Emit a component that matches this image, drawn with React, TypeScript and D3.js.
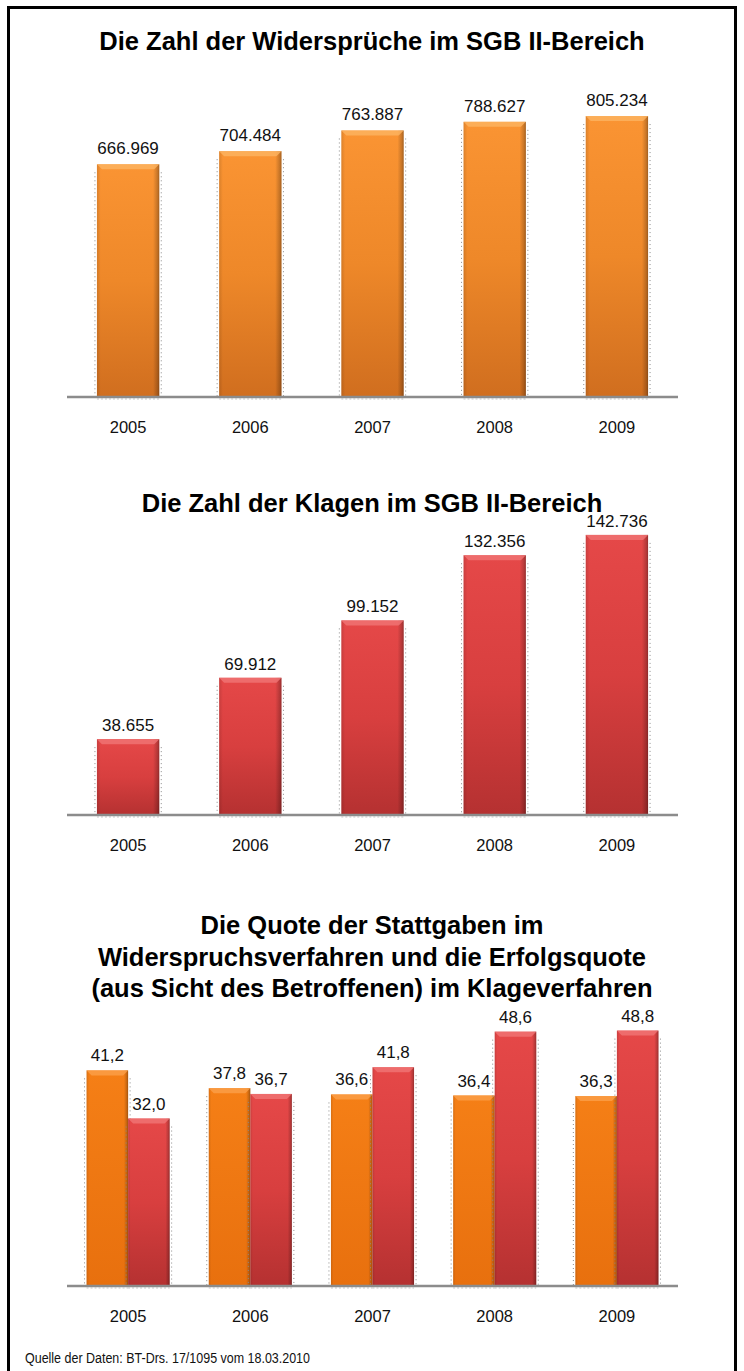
import React from "react";
import * as d3 from "d3";

const years = ["2005", "2006", "2007", "2008", "2009"];
const widersprueche = [666969, 704484, 763887, 788627, 805234];
const klagen = [38655, 69912, 99152, 132356, 142736];
const quoteWiderspruch = [41.2, 37.8, 36.6, 36.4, 36.3];
const quoteKlage = [32.0, 36.7, 41.8, 48.6, 48.8];
const seriesNames = ["Widerspruch", "Klage"];

const title1 = "Die Zahl der Widersprüche im SGB II-Bereich";
const title2 = "Die Zahl der Klagen im SGB II-Bereich";
const title3 = [
  "Die Quote der Stattgaben im",
  "Widerspruchsverfahren und die Erfolgsquote",
  "(aus Sicht des Betroffenen) im Klageverfahren",
];
const source = "Quelle der Daten: BT-Drs.  17/1095 vom 18.03.2010";

const de = d3.formatLocale({
  decimal: ",",
  thousands: ".",
  grouping: [3],
  currency: ["", " €"],
});
const fmtInt = de.format(",.0f");
const fmt1 = de.format(",.1f");

const FONT = "'Liberation Sans', Arial, Helvetica, sans-serif";

type BarProps = { x: number; y: number; w: number; h: number; grad: string; bevel: string };

function Bar({ x, y, w, h, grad, bevel }: BarProps) {
  const b = 5;
  return (
    <g>
      <line x1={x - 2} x2={x - 2} y1={y + 8} y2={y + h} stroke="#8a8a8a" strokeWidth={1} strokeDasharray="1,3" />
      <line x1={x + w + 2} x2={x + w + 2} y1={y + 8} y2={y + h} stroke="#8a8a8a" strokeWidth={1} strokeDasharray="1,3" />
      <rect x={x} y={y} width={w} height={h} fill={`url(#${grad})`} />
      <rect x={x} y={y} width={w} height={h} fill="url(#edgeShade)" />
      <path
        d={`M${x},${y} L${x + w},${y} L${x + w - b},${y + b} L${x + b},${y + b} Z`}
        fill={bevel}
        opacity={0.8}
      />
      <line x1={x} x2={x + w} y1={y + h + 2} y2={y + h + 2} stroke="#c8c8c8" strokeWidth={1} strokeDasharray="2,2" />
    </g>
  );
}

export default function App() {
  const left = 67;
  const right = 678;

  // Chart 1
  const x1 = d3.scaleBand<string>().domain(years).range([left, right]).paddingInner(0.49).paddingOuter(0.245);
  const base1 = 397;
  const y1 = d3.scaleLinear().domain([0, 900000]).range([base1, base1 - 314]);

  // Chart 2
  const base2 = 815;
  const y2 = d3.scaleLinear().domain([0, 160000]).range([base2, base2 - 314]);

  // Chart 3
  const x3 = d3.scaleBand<string>().domain(years).range([left, right]).paddingInner(0.32).paddingOuter(0.16);
  const x3i = d3.scaleBand<string>().domain(seriesNames).range([0, x3.bandwidth()]).padding(0);
  const base3 = 1286;
  const y3 = d3.scaleLinear().domain([0, 60]).range([base3, base3 - 314]);

  const titleStyle = { fontFamily: FONT, fontWeight: 700, fontSize: 25.5, fill: "#000" } as const;
  const valStyle = { fontFamily: FONT, fontSize: 17, fill: "#111" } as const;
  const yearStyle = { fontFamily: FONT, fontSize: 16.5, fill: "#111" } as const;

  return (
    <svg width={744} height={1371} style={{ position: "absolute", left: 0, top: 0, background: "#fff" }}>
      <defs>
        <linearGradient id="gOrange1" x1="0" y1="0" x2="0" y2="1">
          <stop offset="0" stopColor="#fa9433" />
          <stop offset="0.5" stopColor="#ee8829" />
          <stop offset="1" stopColor="#d06e1f" />
        </linearGradient>
        <linearGradient id="gRed" x1="0" y1="0" x2="0" y2="1">
          <stop offset="0" stopColor="#e54848" />
          <stop offset="0.5" stopColor="#d83f3f" />
          <stop offset="1" stopColor="#b53131" />
        </linearGradient>
        <linearGradient id="gOrange3" x1="0" y1="0" x2="0" y2="1">
          <stop offset="0" stopColor="#f57f16" />
          <stop offset="1" stopColor="#e8700e" />
        </linearGradient>
        <linearGradient id="edgeShade" x1="0" y1="0" x2="1" y2="0">
          <stop offset="0" stopColor="#000" stopOpacity={0.12} />
          <stop offset="0.06" stopColor="#000" stopOpacity={0} />
          <stop offset="0.9" stopColor="#000" stopOpacity={0} />
          <stop offset="0.97" stopColor="#000" stopOpacity={0.2} />
          <stop offset="1" stopColor="#000" stopOpacity={0.35} />
        </linearGradient>
      </defs>

      <rect x={8.5} y={7.5} width={727} height={1420} fill="none" stroke="#000" strokeWidth={3} />

      {/* Chart 1 */}
      <text x={372} y={50} textAnchor="middle" style={titleStyle}>{title1}</text>
      {years.map((yr, i) => {
        const v = widersprueche[i];
        const x = x1(yr)!;
        const w = x1.bandwidth();
        return (
          <g key={yr}>
            <Bar x={x} y={y1(v)} w={w} h={base1 - y1(v)} grad="gOrange1" bevel="#fdb462" />
            <text x={x + w / 2} y={y1(v) - 10} textAnchor="middle" style={valStyle}>{fmtInt(v)}</text>
            <text x={x + w / 2} y={base1 + 36} textAnchor="middle" style={yearStyle}>{yr}</text>
          </g>
        );
      })}
      <line x1={left} x2={right} y1={base1} y2={base1} stroke="#8c8c8c" strokeWidth={2.5} />

      {/* Chart 2 */}
      <text x={372} y={512} textAnchor="middle" style={titleStyle}>{title2}</text>
      {years.map((yr, i) => {
        const v = klagen[i];
        const x = x1(yr)!;
        const w = x1.bandwidth();
        return (
          <g key={yr}>
            <Bar x={x} y={y2(v)} w={w} h={base2 - y2(v)} grad="gRed" bevel="#f07575" />
            <text x={x + w / 2} y={y2(v) - 8} textAnchor="middle" style={valStyle}>{fmtInt(v)}</text>
            <text x={x + w / 2} y={base2 + 36} textAnchor="middle" style={yearStyle}>{yr}</text>
          </g>
        );
      })}
      <line x1={left} x2={right} y1={base2} y2={base2} stroke="#8c8c8c" strokeWidth={2.5} />

      {/* Chart 3 */}
      {title3.map((t, i) => (
        <text key={i} x={372} y={934 + i * 31.5} textAnchor="middle" style={titleStyle}>{t}</text>
      ))}
      {years.map((yr, i) => {
        const vals = [quoteWiderspruch[i], quoteKlage[i]];
        return (
          <g key={yr}>
            {seriesNames.map((s, j) => {
              const v = vals[j];
              const x = x3(yr)! + x3i(s)!;
              const w = x3i.bandwidth();
              return (
                <g key={s}>
                  <Bar x={x} y={y3(v)} w={w} h={base3 - y3(v)} grad={j === 0 ? "gOrange3" : "gRed"} bevel={j === 0 ? "#fba04a" : "#f07575"} />
                  <text x={x + w / 2} y={y3(v) - 9} textAnchor="middle" style={valStyle}>{fmt1(v)}</text>
                </g>
              );
            })}
            <text x={x3(yr)! + x3.bandwidth() / 2} y={base3 + 36} textAnchor="middle" style={yearStyle}>{yr}</text>
          </g>
        );
      })}
      <line x1={left} x2={right} y1={base3} y2={base3} stroke="#8c8c8c" strokeWidth={2.5} />

      <text
        x={25}
        y={1363}
        textLength={285}
        lengthAdjust="spacingAndGlyphs"
        style={{ fontFamily: FONT, fontSize: 15.5, fill: "#111" }}
      >
        {source}
      </text>
    </svg>
  );
}
